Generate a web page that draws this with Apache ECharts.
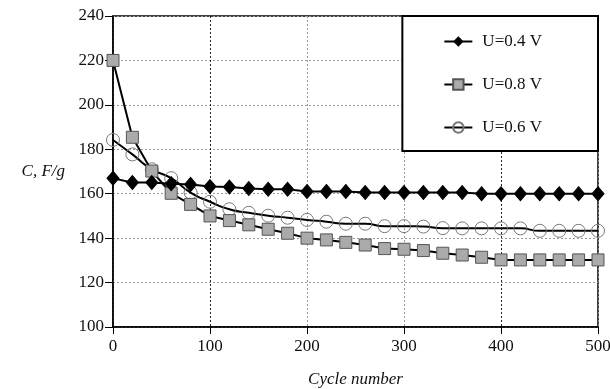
<!DOCTYPE html>
<html lang="en">
<head>
    <meta charset="UTF-8">
    <title>Capacitance vs cycle number</title>
    <script src="https://cdn.jsdelivr.net/npm/echarts@6/dist/echarts.min.js"></script>
    <style>
        html, body {
            margin: 0;
            padding: 0;
            background: #fff;
        }
    </style>
</head>
<body>
<div id="chart" style="width: 610px;height: 389px;"></div>
<script>
    var cycles = [0, 20, 40, 60, 80, 100, 120, 140, 160, 180, 200, 220, 240,
        260, 280, 300, 320, 340, 360, 380, 400, 420, 440, 460, 480, 500];
    var u04 = [167, 165, 165, 164.5, 164.2, 163.2, 163, 162.3, 162, 162, 161, 161, 161,
        160.5, 160.5, 160.5, 160.5, 160.5, 160.5, 160, 160, 160, 160, 160, 160, 160];
    var u08 = [220, 185.4, 170.2, 160.2, 155.2, 150, 147.9, 146, 144, 142.2, 140, 139.2, 138.1,
        136.9, 135.3, 135, 134.4, 133.2, 132.4, 131.4, 130.2, 130.2, 130.2, 130.2, 130.2, 130.2];
    var u06 = [184.2, 177.7, 171, 167, 160.5, 156.4, 153, 151.4, 150.1, 149.2, 148.2, 147.4, 146.5,
        146.5, 145.4, 145.4, 145.2, 144.5, 144.4, 144.4, 144.4, 144.4, 143.3, 143.3, 143.3, 143.3];
    var names = ['U=0.4 V', 'U=0.8 V', 'U=0.6 V'];

    function pairs(ys) {
        return cycles.map(function (x, i) {
            return [x, ys[i]];
        });
    }

    var font = '"Liberation Serif", "DejaVu Serif", serif';
    var chart = echarts.init(document.getElementById('chart'));
    chart.setOption({
        animation: false,
        textStyle: {fontFamily: font},
        grid: {
            left: 113, right: 12, top: 16, bottom: 62,
            outerBoundsMode: 'none',
            containLabel: false,
            show: true, borderColor: '#000', borderWidth: 1.5
        },
        legend: {
            orient: 'vertical',
            right: 12, top: 16,
            padding: [17, 56, 15, 41],
            itemGap: 26,
            itemWidth: 28, itemHeight: 13,
            borderColor: '#000', borderWidth: 2,
            backgroundColor: '#fff',
            textStyle: {fontFamily: font, fontSize: 17, color: '#111', padding: [0, 0, 0, 5]},
            data: names
        },
        xAxis: {
            type: 'value',
            min: 0, max: 500, interval: 100,
            name: 'Cycle number',
            nameLocation: 'middle',
            nameGap: 44,
            nameTextStyle: {fontFamily: font, fontSize: 17, fontStyle: 'italic', color: '#111'},
            axisLine: {lineStyle: {color: '#000', width: 1.5}},
            axisTick: {show: true, length: 7, lineStyle: {color: '#000'}},
            axisLabel: {fontFamily: font, fontSize: 17, color: '#111', margin: 11},
            splitLine: {
                show: true,
                lineStyle: {type: [2, 2], color: ['#888', '#222', '#999', '#999', '#222', '#888'], width: 1}
            }
        },
        yAxis: {
            type: 'value',
            min: 100, max: 240, interval: 20,
            name: 'C, F/g',
            nameLocation: 'middle',
            nameRotate: 0,
            nameGap: 48,
            nameTextStyle: {fontFamily: font, fontSize: 17, fontStyle: 'italic', color: '#111'},
            axisLine: {show: true, lineStyle: {color: '#000', width: 1.5}},
            axisTick: {show: true, length: 8, lineStyle: {color: '#000'}},
            axisLabel: {fontFamily: font, fontSize: 17, color: '#111', margin: 9},
            splitLine: {
                show: true,
                lineStyle: {type: [2, 2], color: '#999', width: 1}
            }
        },
        series: [
            {
                name: names[0],
                type: 'line',
                data: pairs(u04),
                symbol: 'diamond',
                symbolSize: [12, 14],
                lineStyle: {color: '#000', width: 2},
                itemStyle: {color: '#000', borderColor: '#000'},
                z: 4
            },
            {
                name: names[1],
                type: 'line',
                data: pairs(u08),
                symbol: 'rect',
                symbolSize: 12,
                lineStyle: {color: '#000', width: 2},
                itemStyle: {color: '#aaa', borderColor: '#555', borderWidth: 1},
                z: 3
            },
            {
                name: names[2],
                type: 'line',
                data: pairs(u06),
                smooth: 0.6,
                symbol: 'circle',
                symbolSize: 13,
                lineStyle: {color: '#000', width: 2},
                itemStyle: {color: 'rgba(255,255,255,0)', borderColor: '#777', borderWidth: 1},
                z: 2
            }
        ]
    });
</script>
</body>
</html>
